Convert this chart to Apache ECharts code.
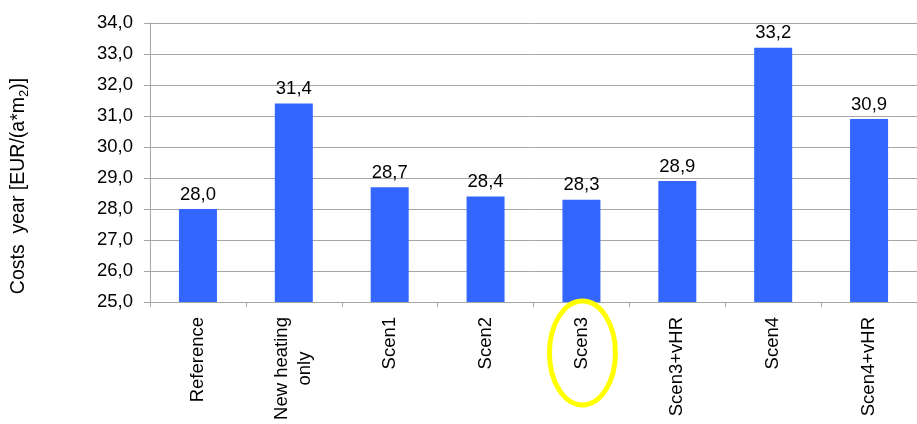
<!DOCTYPE html>
<html><head><meta charset="utf-8">
<script src="https://cdn.jsdelivr.net/npm/echarts@6/dist/echarts.min.js"></script>
<style>html,body{margin:0;padding:0;background:#fff}#c{width:917px;height:424px}</style>
</head><body><div id="c"></div>
<script>
var categories = ['Reference', 'New heating\nonly', 'Scen1', 'Scen2', 'Scen3', 'Scen3+vHR', 'Scen4', 'Scen4+vHR'];
var values = [28.0, 31.4, 28.7, 28.4, 28.3, 28.9, 33.2, 30.9];
var yMin = 25, yMax = 34, yStep = 1;
var highlighted = 'Scen3';

var chart = echarts.init(document.getElementById('c'));
var font = '"Liberation Sans", Arial, sans-serif';
var labelSize = 18.5;
var cv = document.createElement('canvas').getContext('2d');
cv.font = labelSize + 'px ' + font;
function catLabel(v) {
  var lines = v.split('\n');
  if (lines.length === 1) return v;
  var w = Math.max.apply(null, lines.map(function (l) { return cv.measureText(l).width; }));
  return lines.map(function (l) { return '{c' + Math.ceil(w) + '|' + l + '}'; }).join('\n');
}
var richCat = {};
categories.forEach(function (c) {
  var lines = c.split('\n');
  if (lines.length > 1) {
    var w = Math.ceil(Math.max.apply(null, lines.map(function (l) { return cv.measureText(l).width; })));
    richCat['c' + w] = {width: w, align: 'center', fontSize: labelSize, fontFamily: font, color: '#000', lineHeight: 23};
  }
});

chart.setOption({
  animation: false,
  grid: {left: 150, right: 0, top: 23, bottom: 122, containLabel: false},
  xAxis: {
    type: 'category', data: categories,
    axisLine: {lineStyle: {color: '#a6a6a6', width: 1}},
    axisTick: {show: true, length: 5, lineStyle: {color: '#a6a6a6'}},
    axisLabel: {rotate: 90, margin: 15, color: '#000', fontSize: labelSize, fontFamily: font, lineHeight: 23,
      align: 'right', verticalAlign: 'middle', formatter: catLabel, rich: richCat}
  },
  yAxis: {
    type: 'value', min: yMin, max: yMax, interval: yStep,
    axisLine: {show: true, lineStyle: {color: '#a6a6a6'}},
    axisTick: {show: true, length: 6, lineStyle: {color: '#a6a6a6'}},
    splitLine: {lineStyle: {color: '#a6a6a6', width: 1}},
    axisLabel: {color: '#000', fontSize: 18.5, fontFamily: font, margin: 17,
      formatter: function (v) { return v.toFixed(1).replace('.', ','); }}
  },
  series: [{
    type: 'bar', data: values, barWidth: 38,
    itemStyle: {color: '#3366FF'},
    label: {show: true, position: 'top', distance: 5, color: '#000', fontSize: 18.5, fontFamily: font,
      formatter: function (p) { return p.value.toFixed(1).replace('.', ','); }}
  }]
});

var idx = categories.indexOf(highlighted);
var px = chart.convertToPixel({xAxisIndex: 0}, idx);
chart.setOption({
  graphic: [
    {type: 'ellipse', shape: {cx: px + 1, cy: 353, rx: 33, ry: 52},
      style: {fill: 'none', stroke: '#FFFF00', lineWidth: 5}, z: 100},
    {type: 'text', x: 19, y: 186, rotation: Math.PI / 2, z: 100,
      style: {
        text: '{n|Costs  year [EUR/(a*m}{s|2}{n|)]}',
        align: 'center', verticalAlign: 'middle',
        rich: {
          n: {fontSize: 19.5, fontFamily: font, fill: '#000'},
          s: {fontSize: 13, fontFamily: font, fill: '#000', padding: [10, 0, 0, 0]}
        }
      }}
  ]
});
</script></body></html>
